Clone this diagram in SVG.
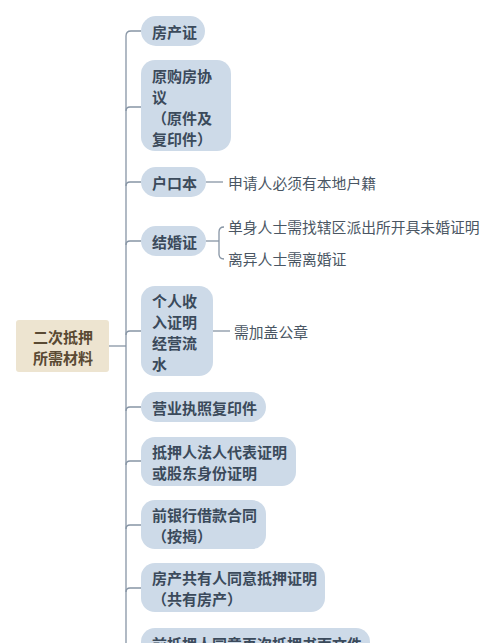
<svg xmlns="http://www.w3.org/2000/svg" width="500" height="643" viewBox="0 0 500 643">
<style>
.node{fill:#cddae8}
.nt{font-family:"Noto Sans CJK SC","Noto Sans",sans-serif;font-size:15px;font-weight:bold;fill:#3b4a5b;dominant-baseline:central}
.root{fill:#ede4d0}
.rt{font-family:"Noto Sans CJK SC","Noto Sans",sans-serif;font-size:15px;font-weight:bold;fill:#5a4a33;dominant-baseline:central;text-anchor:middle}
.lt{font-family:"Noto Sans CJK SC","Noto Sans",sans-serif;font-size:14.8px;fill:#4a5663;dominant-baseline:central}
.ln{fill:none;stroke:#8795a5;stroke-width:1.3}
</style>
<rect width="500" height="643" fill="#ffffff"/>
<g id="connectors">
<path class="ln" d="M109,346 L126,346"/>
<path class="ln" d="M141,31 L131,31 Q126,31 126,36 L126,643"/>
<path class="ln" d="M126,111 Q126,107 130,107 L141,107"/>
<path class="ln" d="M126,186 Q126,182 130,182 L141,182"/>
<path class="ln" d="M126,245 Q126,241 130,241 L141,241"/>
<path class="ln" d="M126,335 Q126,331 130,331 L141,331"/>
<path class="ln" d="M126,411 Q126,407 130,407 L141,407"/>
<path class="ln" d="M126,465 Q126,461 130,461 L141,461"/>
<path class="ln" d="M126,529 Q126,525 130,525 L141,525"/>
<path class="ln" d="M126,592 Q126,588 130,588 L141,588"/>
<path class="ln" d="M206,182 L223,182"/>
<path class="ln" d="M206,241 L219,241"/>
<path class="ln" d="M224,227 Q219,227 219,232 L219,254 Q219,259 224,259"/>
<path class="ln" d="M213,331 L230,331"/>
</g>
<g id="root">
<rect class="root" x="16" y="320" width="93" height="52" rx="3"/>
<text class="rt" x="63" y="336">二次抵押</text>
<text class="rt" x="63" y="357">所需材料</text>
</g>
<g id="n1">
<rect class="node" x="141" y="16" width="64" height="30" rx="15"/>
<text class="nt" x="152" y="31">房产证</text>
</g>
<g id="n2">
<rect class="node" x="141" y="60" width="90" height="91" rx="14"/>
<text class="nt" x="152" y="75">原购房协</text>
<text class="nt" x="152" y="96">议</text>
<text class="nt" x="152" y="117">（原件及</text>
<text class="nt" x="152" y="138">复印件）</text>
</g>
<g id="n3">
<rect class="node" x="141" y="167" width="65" height="30" rx="15"/>
<text class="nt" x="152" y="182">户口本</text>
</g>
<g id="n3a">
<text class="lt" x="228" y="182">申请人必须有本地户籍</text>
</g>
<g id="n4">
<rect class="node" x="141" y="226" width="65" height="30" rx="15"/>
<text class="nt" x="152" y="241">结婚证</text>
</g>
<g id="n4a">
<text class="lt" x="228" y="226">单身人士需找辖区派出所开具未婚证明</text>
</g>
<g id="n4b">
<text class="lt" x="228" y="258">离异人士需离婚证</text>
</g>
<g id="n5">
<rect class="node" x="141" y="286" width="72" height="90" rx="14"/>
<text class="nt" x="152" y="300">个人收</text>
<text class="nt" x="152" y="321">入证明</text>
<text class="nt" x="152" y="342">经营流</text>
<text class="nt" x="152" y="363">水</text>
</g>
<g id="n5a">
<text class="lt" x="234" y="331">需加盖公章</text>
</g>
<g id="n6">
<rect class="node" x="141" y="392" width="125" height="30" rx="15"/>
<text class="nt" x="152" y="407">营业执照复印件</text>
</g>
<g id="n7">
<rect class="node" x="141" y="437" width="155" height="49" rx="14"/>
<text class="nt" x="152" y="451">抵押人法人代表证明</text>
<text class="nt" x="152" y="472">或股东身份证明</text>
</g>
<g id="n8">
<rect class="node" x="141" y="500" width="125" height="49" rx="14"/>
<text class="nt" x="152" y="514">前银行借款合同</text>
<text class="nt" x="152" y="535">（按揭）</text>
</g>
<g id="n9">
<rect class="node" x="141" y="563" width="184" height="49" rx="14"/>
<text class="nt" x="152" y="577">房产共有人同意抵押证明</text>
<text class="nt" x="152" y="598">（共有房产）</text>
</g>
<g id="n10">
<rect class="node" x="141" y="628" width="229" height="30" rx="14"/>
<text class="nt" x="152" y="643">前抵押人同意再次抵押书面文件</text>
</g>
</svg>
